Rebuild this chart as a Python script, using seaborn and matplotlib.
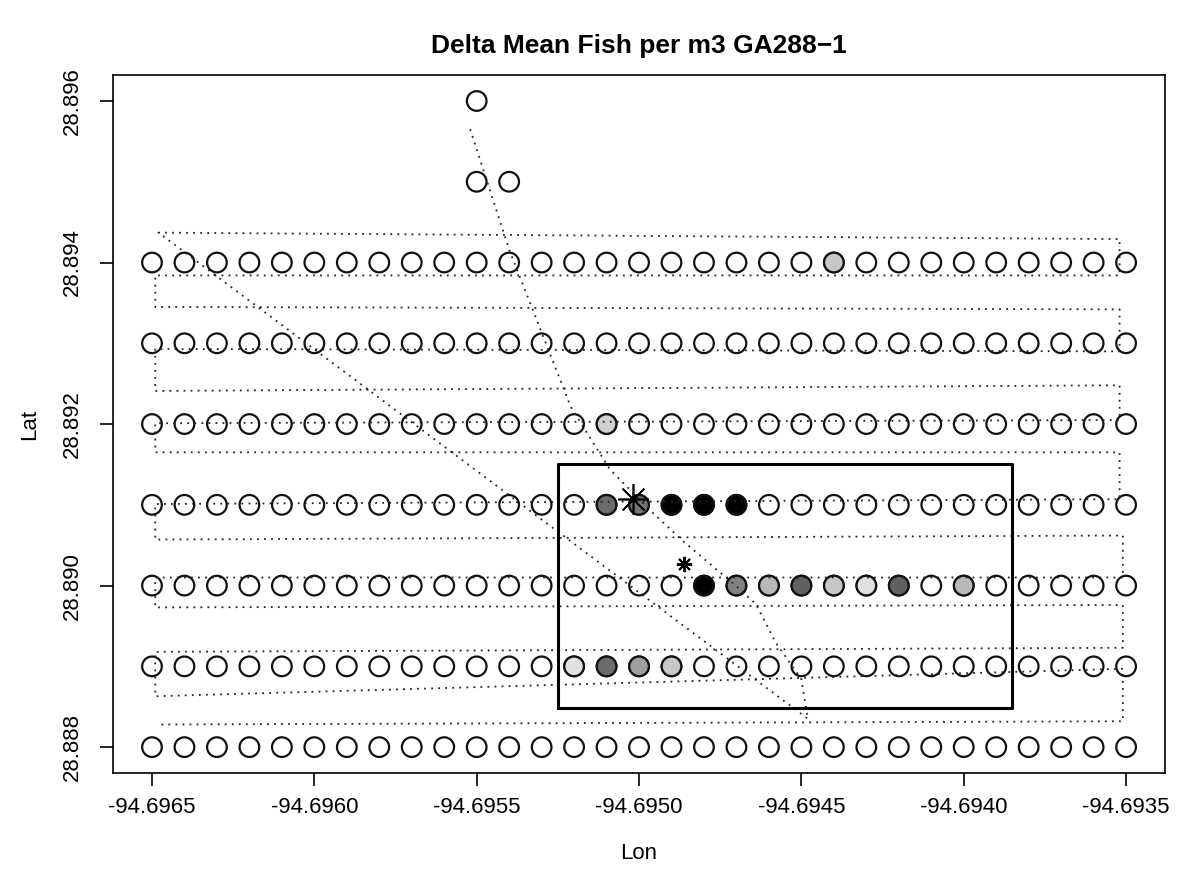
import matplotlib
matplotlib.use("Agg")
import matplotlib.pyplot as plt
import seaborn as sns
import pandas as pd

# sampling grid
grid_lon = [-94.6965, -94.6964, -94.6963, -94.6962, -94.6961, -94.6960, -94.6959,
            -94.6958, -94.6957, -94.6956, -94.6955, -94.6954, -94.6953, -94.6952,
            -94.6951, -94.6950, -94.6949, -94.6948, -94.6947, -94.6946, -94.6945,
            -94.6944, -94.6943, -94.6942, -94.6941, -94.6940, -94.6939, -94.6938,
            -94.6937, -94.6936, -94.6935]
grid_lat = [28.888, 28.889, 28.890, 28.891, 28.892, 28.893, 28.894]
extra_lon = [-94.6955, -94.6955, -94.6954]
extra_lat = [28.896, 28.895, 28.895]

# cells with fish (grey level, 0 = black)
fill_lon = [-94.6944, -94.6951, -94.6951, -94.6950, -94.6949, -94.6948, -94.6947,
            -94.6948, -94.6947, -94.6946, -94.6945, -94.6944, -94.6943, -94.6942,
            -94.6940, -94.6952, -94.6951, -94.6950, -94.6949]
fill_lat = [28.894, 28.892, 28.891, 28.891, 28.891, 28.891, 28.891,
            28.890, 28.890, 28.890, 28.890, 28.890, 28.890, 28.890,
            28.890, 28.889, 28.889, 28.889, 28.889]
fill_grey = [0.78, 0.82, 0.42, 0.45, 0.0, 0.0, 0.0,
             0.0, 0.5, 0.72, 0.38, 0.78, 0.88, 0.38,
             0.72, 0.88, 0.42, 0.62, 0.78]

# ship track
track_lon = [-94.69552, -94.69540, -94.69521, -94.69509, -94.69496, -94.69487,
             -94.69470, -94.69464, -94.69458, -94.69450, -94.69448,
             -94.69648, -94.69352, -94.69352, -94.69649, -94.69649, -94.69352,
             -94.69352, -94.69649, -94.69649, -94.69352, -94.69352, -94.69649,
             -94.69649, -94.69352, -94.69352, -94.69649, -94.69649, -94.69351,
             -94.69351, -94.69649, -94.69649, -94.69351, -94.69351, -94.69649,
             -94.69649, -94.69351, -94.69351, -94.69648]
track_lat = [28.89565, 28.89416, 28.89221, 28.89144, 28.89091, 28.89057,
             28.88999, 28.88977, 28.88930, 28.88884, 28.88835,
             28.89437, 28.89429, 28.89384, 28.89384, 28.89345, 28.89342,
             28.89290, 28.89293, 28.89241, 28.89248, 28.89205, 28.89201,
             28.89165, 28.89165, 28.89107, 28.89101, 28.89057, 28.89062,
             28.89010, 28.89010, 28.88973, 28.88976, 28.88923, 28.88918,
             28.88863, 28.88897, 28.88832, 28.88828]

# highlighted box and centres
box_lon = [-94.69525, -94.69385, -94.69385, -94.69525, -94.69525]
box_lat = [28.88848, 28.88848, 28.89150, 28.89150, 28.88848]
star_lon = [-94.69502, -94.69486]
star_lat = [28.89107, 28.89027]

sns.set_style("white")
plt.rcParams["font.family"] = ["Liberation Sans", "DejaVu Sans"]
plt.rcParams["axes.unicode_minus"] = False
plt.rcParams["text.color"] = "black"
plt.rcParams["axes.labelcolor"] = "black"

rows = [(lo, la) for la in grid_lat for lo in grid_lon] + list(zip(extra_lon, extra_lat))
df = pd.DataFrame(rows, columns=["Lon", "Lat"])
fills = pd.DataFrame({"Lon": fill_lon, "Lat": fill_lat, "grey": fill_grey})
fills["col"] = [str(g) for g in fills["grey"]]

fig, ax = plt.subplots(figsize=(11.81, 8.84), dpi=100)
fig.subplots_adjust(left=0.0957, right=0.9865, top=0.915, bottom=0.1256)

# open circles
sns.scatterplot(data=df, x="Lon", y="Lat", ax=ax, marker="o", s=200,
                facecolor="none", edgecolor="#111111", linewidth=1.6, zorder=3)
# filled circles
sns.scatterplot(data=fills, x="Lon", y="Lat", hue="col",
                palette={c: c for c in fills["col"]}, ax=ax, marker="o", s=200,
                edgecolor="#111111", linewidth=1.6, legend=False, zorder=4)

ax.plot(track_lon, track_lat, color="#222222", lw=1.3, linestyle=(0, (1, 2.9)), zorder=5)
ax.plot(box_lon, box_lat, color="black", lw=2.2, zorder=6)
ax.plot(star_lon[0], star_lat[0], marker=(8, 2, 0), ms=22, mew=1.2, color="black",
        linestyle="none", zorder=7)
ax.plot(star_lon[1], star_lat[1], marker=(8, 2, 0), ms=11, mew=1.4, color="black",
        linestyle="none", zorder=7)

ax.set_xlim(-94.69662, -94.69338)
ax.set_ylim(28.88768, 28.89632)
xt = [-94.6965, -94.6960, -94.6955, -94.6950, -94.6945, -94.6940, -94.6935]
yt = [28.888, 28.890, 28.892, 28.894, 28.896]
ax.set_xticks(xt)
ax.set_xticklabels(["%.4f" % v for v in xt])
ax.set_yticks(yt)
ax.set_yticklabels(["%.3f" % v for v in yt], rotation=90, va="center")
ax.tick_params(axis="both", which="both", direction="out", length=9.5, width=1.2,
               labelsize=16, color="black", labelcolor="black")
ax.tick_params(axis="x", pad=8)
ax.tick_params(axis="y", pad=12)
ax.xaxis.set_ticks_position("bottom")
ax.yaxis.set_ticks_position("left")
for spine in ax.spines.values():
    spine.set_visible(True)
    spine.set_color("black")
    spine.set_linewidth(1.2)

ax.set_xlabel("Lon", fontsize=16, labelpad=18)
ax.set_ylabel("Lat", fontsize=16, labelpad=16)
ax.set_title("Delta Mean Fish per m3 GA288\u22121", fontsize=19, fontweight="bold", pad=16)

plt.savefig("out.png", dpi=100)
